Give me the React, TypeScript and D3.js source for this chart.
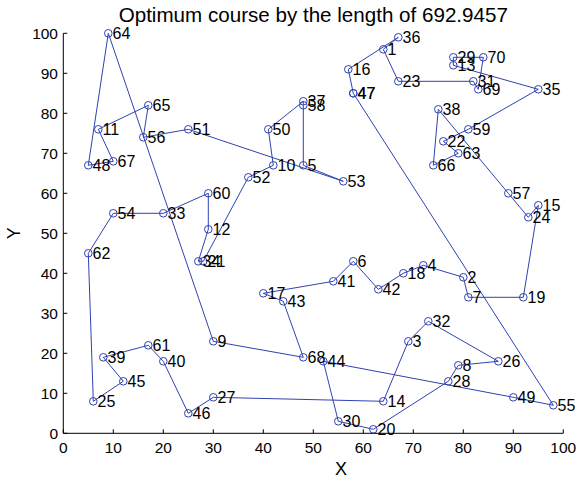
import React from "react";
import * as d3 from "d3";

// City coordinates (city i+1 at index i)
const cityX = [64,80,69,72,48,58,81,79,30,42, 7,29,78,64,95,57,40,68,92,62, 28,76,67,93,6,87,30,77,78,55, 82,73,20,27,95,67,48,75,8,20, 54,63,44,52,12,25,58,5,90,41, 25,37,56,10,98,16,89,48,81,29, 17,5,79,9,17,74,10,48,83,84];
const cityY = [96,39,23,42,67,43,34,17,23,67, 76,51,92,8,57,91,35,40,34,1, 43,73,88,54,8,18,9,13,94,3, 88,28,55,43,86,99,83,81,19,18, 38,36,33,18,13,5,85,67,9,76, 76,64,63,55,7,74,60,82,76,60, 22,45,70,100,82,67,68,19,86,94];

// Optimum tour (returns to the start city)
const route = [47,16,36,1,23,31,69,70,29,13,35,59,22,63,66,38,57,24,15,19,7,2,4,18,42,6,41,17,43,68,9,64,48,67,11,65,56,51,53,5,58,37,50,10,52,21,34,12,60,33,54,62,25,45,39,61,40,46,27,14,3,32,26,8,28,20,30,44,49,55,47];

const xTicks = [0,10,20,30,40,50,60,70,80,90,100];
const yTicks = [0,10,20,30,40,50,60,70,80,90,100];
const titleText = "Optimum course by the length of 692.9457";

const W = 584, H = 486;
const L = 63.3, R = 563.3, T = 33.3, B = 433.3;
const BLUE = "#2f42b0";
const FONT = "'Liberation Sans', Arial, Helvetica, sans-serif";

export default function App() {
  const x = d3.scaleLinear().domain([0, 100]).range([L, R]);
  const y = d3.scaleLinear().domain([0, 100]).range([B, T]);
  const pts = route.map((c) => ({ id: c, x: cityX[c - 1], y: cityY[c - 1] }));
  const line = d3.line<{ x: number; y: number }>().x((d) => x(d.x)).y((d) => y(d.y));

  return (
    <svg width={W} height={H} style={{ position: "absolute", left: 0, top: 0, background: "#fff" }} fontFamily={FONT}>
      <rect x={0} y={0} width={W} height={H} fill="#fff" />
      {/* axes */}
      <line x1={L} y1={B} x2={R} y2={B} stroke="#000" strokeWidth={1} />
      <line x1={L} y1={B} x2={L} y2={T} stroke="#000" strokeWidth={1} />
      {xTicks.map((t) => (
        <g key={"xt" + t}>
          <line x1={x(t)} x2={x(t)} y1={B} y2={B - 4} stroke="#000" strokeWidth={1} />
          <text x={x(t)} y={452.5} fontSize={15.5} textAnchor="middle" fill="#000">{t}</text>
        </g>
      ))}
      {yTicks.map((t) => (
        <g key={"yt" + t}>
          <line x1={L} x2={L + 4} y1={y(t)} y2={y(t)} stroke="#000" strokeWidth={1} />
          <text x={58} y={y(t) + 5.5} fontSize={15.5} textAnchor="end" fill="#000">{t}</text>
        </g>
      ))}
      <text x={341} y={475} fontSize={18} textAnchor="middle" fill="#000">X</text>
      <text x={0} y={0} fontSize={18} textAnchor="middle" fill="#000" transform={`translate(20,${(T + B) / 2}) rotate(-90)`}>Y</text>
      <text x={(L + R) / 2} y={22} fontSize={20.6} textAnchor="middle" fill="#000">{titleText}</text>
      {/* tour */}
      <path d={line(pts) || ""} fill="none" stroke={BLUE} strokeWidth={1} />
      {pts.map((p, i) => (
        <circle key={"c" + i} cx={x(p.x)} cy={y(p.y)} r={3.8} fill="none" stroke={BLUE} strokeWidth={1} />
      ))}
      {pts.map((p, i) => (
        <text key={"t" + i} x={x(p.x) + 4.3} y={y(p.y) + 5.8} fontSize={16} fill="#000">{p.id}</text>
      ))}
    </svg>
  );
}
